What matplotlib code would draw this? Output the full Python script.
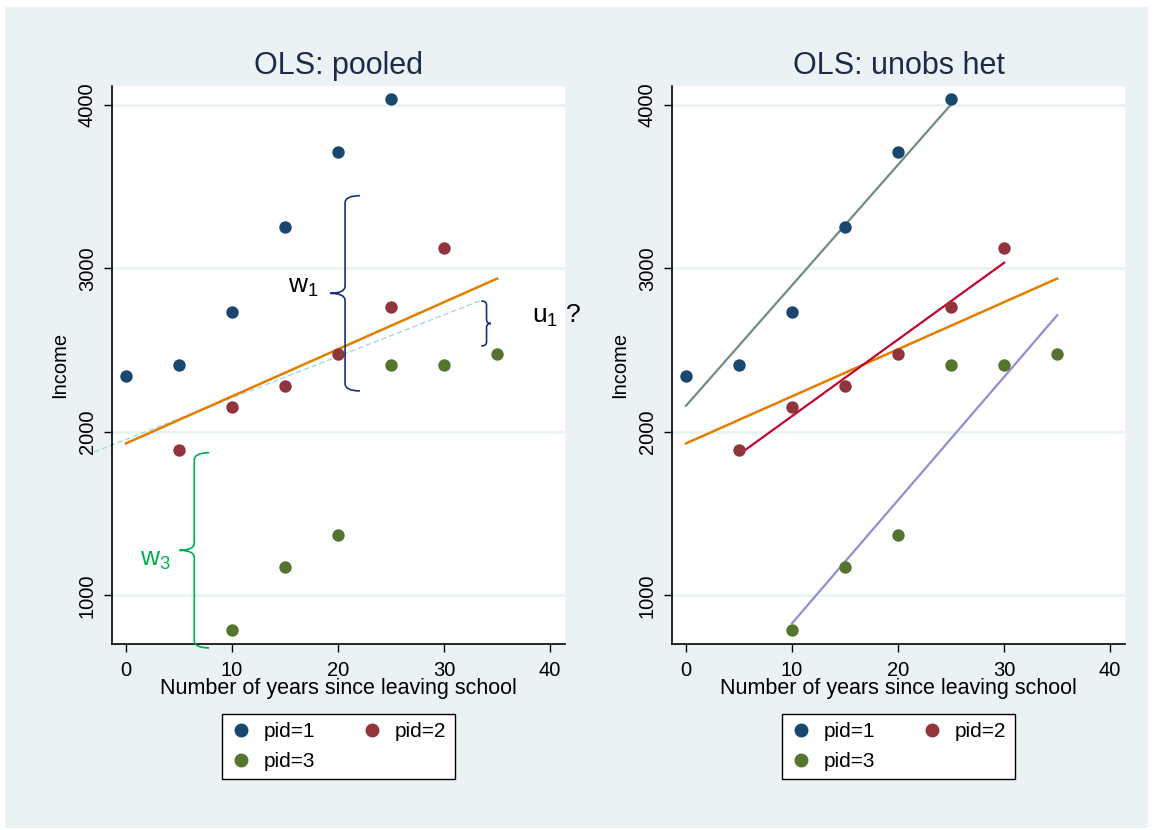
import numpy as np
import matplotlib
matplotlib.use('Agg')
import matplotlib.pyplot as plt
from matplotlib.path import Path
from matplotlib.patches import PathPatch, Rectangle
from matplotlib.lines import Line2D

plt.rcParams['font.family'] = ['Liberation Sans', 'DejaVu Sans']
plt.rcParams['mathtext.default'] = 'regular'

# data
years1 = [0, 5, 10, 15, 20, 25]
income1 = [2342, 2410, 2734, 3254, 3713, 4037]
years2 = [5, 10, 15, 20, 25, 30]
income2 = [1890, 2153, 2281, 2477, 2765, 3125]
years3 = [10, 15, 20, 25, 30, 35]
income3 = [789, 1174, 1370, 2410, 2410, 2477]

pid_labels = ['pid=1', 'pid=2', 'pid=3']
xticks = [0, 10, 20, 30, 40]
yticks = [1000, 2000, 3000, 4000]

# annotation geometry on the left panel (data units)
guide_x = [-3.0, 33.4]
guide_y = [1878, 2803]

navy = '#1A476F'
maroon = '#90353B'
green = '#55752F'
orange = '#E37E00'
teal = '#6E8E84'
cranberry = '#C10534'
lavender = '#938DD2'
bg = '#EAF2F3'
title_col = '#1C2B4A'


def brace(ax, x, y0, y1, arm, tip, color, ry=45):
    # curly brace, arms point toward x+arm, tip toward x+tip
    ym = (y0 + y1) / 2.0
    verts = [(x + arm, y1), (x, y1), (x, y1 - ry),
             (x, ym + ry), (x, ym), (x + tip, ym),
             (x, ym), (x, ym - ry),
             (x, y0 + ry), (x, y0), (x + arm, y0)]
    codes = [Path.MOVETO, Path.CURVE3, Path.CURVE3,
             Path.LINETO, Path.CURVE3, Path.CURVE3,
             Path.CURVE3, Path.CURVE3,
             Path.LINETO, Path.CURVE3, Path.CURVE3]
    ax.add_patch(PathPatch(Path(verts, codes), fill=False, edgecolor=color,
                           lw=1.2, clip_on=False, zorder=4))


def fit(x, y):
    b, a = np.polyfit(x, y, 1)
    xs = np.array([min(x), max(x)])
    return xs, a + b * xs


fig = plt.figure(figsize=(11.53, 8.30), dpi=100, facecolor='white')
fig.patches.append(Rectangle((0.004, 0.003), 0.992, 0.988, transform=fig.transFigure,
                             facecolor=bg, edgecolor='none', zorder=-10))

ax1 = fig.add_axes([112 / 1153, 1 - 644 / 830, 453 / 1153, 558 / 830])
ax2 = fig.add_axes([672 / 1153, 1 - 644 / 830, 453 / 1153, 558 / 830])

all_x = years1 + years2 + years3
all_y = income1 + income2 + income3
px, py = fit(all_x, all_y)

for ax, title in [(ax1, 'OLS: pooled'), (ax2, 'OLS: unobs het')]:
    ax.set_facecolor('white')
    ax.set_xlim(-1.32, 41.4)
    ax.set_ylim(703, 4116)
    ax.set_xticks(xticks)
    ax.set_yticks(yticks)
    ax.set_yticklabels([str(v) for v in yticks], rotation=90, va='center')
    ax.tick_params(axis='both', labelsize=14.5, length=6, width=1, pad=5, color='black')
    ax.tick_params(axis='x', pad=6)
    for s in ['top', 'right']:
        ax.spines[s].set_visible(False)
    for s in ['left', 'bottom']:
        ax.spines[s].set_linewidth(1.2)
    for v in yticks:
        ax.axhline(v, color=bg, lw=2, zorder=0)
    ax.set_xlabel('Number of years since leaving school', fontsize=15.5, labelpad=-1)
    ax.set_ylabel('Income', fontsize=14.5, labelpad=6)
    ax.set_title(title, fontsize=22, color=title_col, pad=9)

    ax.scatter(years1, income1, s=80, color=navy, zorder=3, linewidths=0)
    ax.scatter(years2, income2, s=80, color=maroon, zorder=3, linewidths=0)
    ax.scatter(years3, income3, s=80, color=green, zorder=3, linewidths=0)
    ax.plot(px, py, color=orange, lw=1.8, zorder=2)

    handles = [Line2D([], [], marker='o', ls='none', color=c, markersize=9)
               for c in [navy, maroon, green]]
    order = [0, 2, 1]
    leg = ax.legend([handles[i] for i in order], [pid_labels[i] for i in order],
                    ncol=2, loc='upper center', bbox_to_anchor=(0.5, -0.107),
                    frameon=True, fancybox=False, edgecolor='black', facecolor='white',
                    framealpha=1, fontsize=15, handletextpad=0.6, columnspacing=2.2,
                    borderpad=0.4, handlelength=1.0, labelspacing=0.5)
    leg.get_frame().set_linewidth(1.0)

# left panel annotations
ax1.plot(guide_x, guide_y, color='#A8D8DC', lw=1, ls=(0, (4, 2)), zorder=1, clip_on=False)
brace(ax1, 20.66, 2251, 3445, 1.4, -1.4, '#1A2E7A')
ax1.text(18.2, 2850, r'$w_1$', fontsize=19, ha='right', va='baseline')
brace(ax1, 34.0, 2526, 2801, -0.5, 0.4, '#1A2E7A', ry=25)
ax1.text(38.3, 2667, r'$u_1$ ?', fontsize=19, ha='left', va='baseline', clip_on=False)
brace(ax1, 6.44, 679, 1873, 1.4, -1.4, '#00B050')
ax1.text(1.3, 1180, r'$w_3$', fontsize=19, ha='left', va='baseline', color='#00B050')

# right panel: one fit per pid
for xs, ys, c in [(years1, income1, teal), (years2, income2, cranberry),
                  (years3, income3, lavender)]:
    fx, fy = fit(xs, ys)
    ax2.plot(fx, fy, color=c, lw=1.6, zorder=2)

fig.savefig('out.png', dpi=100, facecolor=fig.get_facecolor())
